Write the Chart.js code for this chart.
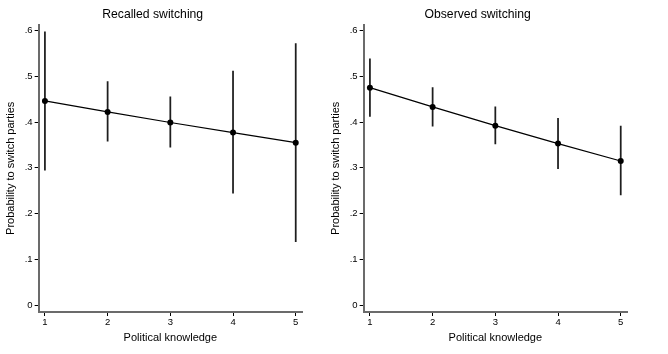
<!DOCTYPE html>
<html><head><meta charset="utf-8">
<script src="https://cdn.jsdelivr.net/npm/chart.js@4/dist/chart.umd.min.js"></script>
<style>
html,body{margin:0;padding:0;background:#fff;width:668px;height:354px;overflow:hidden;position:relative}
canvas{position:absolute;top:0}
</style></head>
<body>
<canvas id="c1" width="306" height="354" style="left:0px"></canvas>
<canvas id="c2" width="306" height="354" style="left:325px"></canvas>
<script>
const knowledge = [1, 2, 3, 4, 5];
const xTicks = [1, 2, 3, 4, 5];
const yTicks = [0, 0.1, 0.2, 0.3, 0.4, 0.5, 0.6];

const recalledProb = [0.446, 0.422, 0.399, 0.377, 0.355];
const recalledLow  = [0.295, 0.358, 0.345, 0.245, 0.139];
const recalledHigh = [0.597, 0.488, 0.455, 0.511, 0.571];

const observedProb = [0.475, 0.433, 0.392, 0.353, 0.315];
const observedLow  = [0.412, 0.391, 0.352, 0.298, 0.241];
const observedHigh = [0.538, 0.475, 0.433, 0.408, 0.391];

Chart.defaults.font.family = '"Liberation Sans", Arial, Helvetica, sans-serif';
Chart.defaults.color = '#000';

function yLabel(v) {
  if (Math.abs(v) < 1e-9) return '0';
  return v.toFixed(1).replace(/^0/, '');
}

function makeChart(id, title, prob, lo, hi) {
  return new Chart(document.getElementById(id), {
    type: 'line',
    data: {
      datasets: [
        {
          type: 'line',
          data: knowledge.map((x, i) => ({x: x, y: prob[i]})),
          borderColor: '#000',
          borderWidth: 1.2,
          pointRadius: 3,
          pointBackgroundColor: '#000',
          pointBorderWidth: 0,
          tension: 0,
          order: 1
        },
        {
          type: 'bar',
          data: knowledge.map((x, i) => ({x: x, y: [lo[i], hi[i]]})),
          backgroundColor: '#1e1e1e',
          borderWidth: 0,
          barThickness: 1.1,
          order: 2
        }
      ]
    },
    options: {
      responsive: false,
      animation: false,
      devicePixelRatio: 1,
      layout: {padding: {left: 0, right: 0.65, top: 0, bottom: 0}},
      plugins: {
        legend: {display: false},
        tooltip: {enabled: false},
        title: {
          display: true,
          text: title,
          color: '#000',
          font: {size: 12.2, weight: 'normal'},
          padding: {top: 7, bottom: 3}
        }
      },
      scales: {
        x: {
          type: 'linear',
          min: 0.9,
          max: 5.1,
          offset: false,
          afterBuildTicks: s => { s.ticks = xTicks.map(v => ({value: v})); },
          afterFit: s => { s.height = 42; },
          ticks: {
            color: '#000',
            font: {size: 9.5},
            padding: 1,
            maxRotation: 0,
            autoSkip: false,
            callback: v => String(v)
          },
          grid: {offset: false, drawOnChartArea: false, drawTicks: true, tickLength: 4, color: '#000', lineWidth: 1},
          border: {display: true, color: '#6b6b6b', width: 2},
          title: {
            display: true,
            text: 'Political knowledge',
            color: '#000',
            font: {size: 11},
            padding: {top: 0, bottom: 9.7}
          }
        },
        y: {
          type: 'linear',
          min: -0.0145,
          max: 0.6125,
          afterBuildTicks: s => { s.ticks = yTicks.map(v => ({value: v})); },
          afterFit: s => { s.width = 38.65; },
          ticks: {
            color: '#000',
            font: {size: 9.5},
            padding: 2,
            autoSkip: false,
            callback: v => yLabel(v)
          },
          grid: {offset: false, drawOnChartArea: false, drawTicks: true, tickLength: 4, color: '#000', lineWidth: 1},
          border: {display: true, color: '#6b6b6b', width: 2},
          title: {
            display: true,
            text: 'Probability to switch parties',
            color: '#000',
            font: {size: 11},
            padding: {top: 4.4, bottom: 0}
          }
        }
      }
    }
  });
}

makeChart('c1', 'Recalled switching', recalledProb, recalledLow, recalledHigh);
makeChart('c2', 'Observed switching', observedProb, observedLow, observedHigh);
</script>
</body></html>
